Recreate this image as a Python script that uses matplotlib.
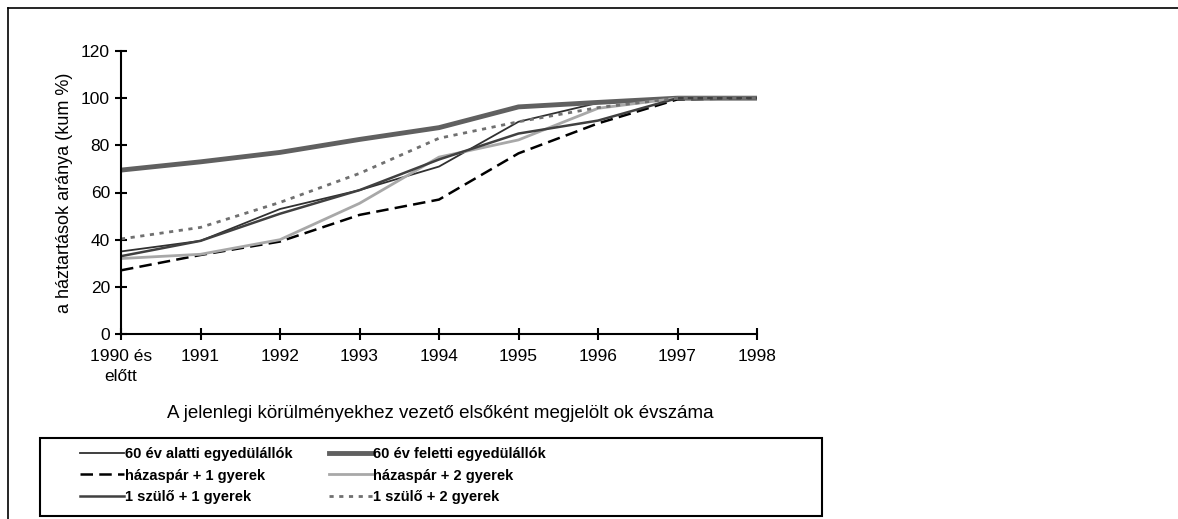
import matplotlib
matplotlib.use("Agg")
import matplotlib.pyplot as plt
from matplotlib.lines import Line2D
from matplotlib.patches import Rectangle

plt.rcParams['font.family'] = ['Liberation Sans', 'DejaVu Sans']

years = ["1990 és\nelőtt", "1991", "1992", "1993", "1994", "1995", "1996", "1997", "1998"]
under60 = [35, 39.5, 53, 61, 71, 90, 98, 100, 100]
over60 = [69.5, 73, 77, 82.5, 87.5, 96.3, 98.2, 100, 100]
couple1 = [27, 33.5, 39.2, 50.5, 57, 76.6, 89.3, 99.5, 100]
couple2 = [32, 33.8, 40, 55.4, 75, 82.3, 95.7, 100, 100]
single1 = [33, 39.5, 51, 61, 74, 85, 90.5, 100, 100]
single2 = [40.3, 45.2, 55.8, 68.1, 83, 90, 96, 100, 100]

labels = ["60 év alatti egyedülállók", "60 év feletti egyedülállók",
          "házaspár + 1 gyerek", "házaspár + 2 gyerek",
          "1 szülő + 1 gyerek", "1 szülő + 2 gyerek"]

W, H = 1178, 519
fig = plt.figure(figsize=(W / 100, H / 100), dpi=100)
ax = fig.add_axes([121 / W, (H - 334) / H, 636 / W, 283 / H])

x = list(range(len(years)))
l1, = ax.plot(x, under60, color='#303030', lw=1.3)
l2, = ax.plot(x, over60, color='#606060', lw=3.5)
l3, = ax.plot(x, couple1, color='black', lw=1.8, dashes=(5, 2.5))
l4, = ax.plot(x, couple2, color='#a8a8a8', lw=2)
l5, = ax.plot(x, single1, color='#404040', lw=1.8)
l6, = ax.plot(x, single2, color='#707070', lw=2, dashes=(1.5, 2))

ax.set_xlim(0, 8)
ax.set_ylim(0, 120)
ax.set_yticks(range(0, 121, 20))
ax.set_xticks(x)
ax.set_xticklabels(years, linespacing=1.45)
ax.tick_params(axis='both', direction='inout', length=9, width=1.5, labelsize=12.5)
ax.tick_params(axis='x', pad=6)
for s in ['top', 'right']:
    ax.spines[s].set_visible(False)
for s in ['left', 'bottom']:
    ax.spines[s].set_linewidth(1.5)
ax.set_ylabel("a háztartások aránya (kum %)", fontsize=13, labelpad=6)
fig.text(440 / W, 1 - 414 / H, "A jelenlegi körülményekhez vezető elsőként megjelölt ok évszáma",
         fontsize=13.5, ha='center', va='center')

handles = [l1, l3, l5, l2, l4, l6]
leg_labels = [labels[0], labels[2], labels[4], labels[1], labels[3], labels[5]]
leg = fig.legend(handles, leg_labels, ncol=2, loc='upper left',
                 bbox_to_anchor=(73 / W, 1 - 440 / H), frameon=False, borderpad=0,
                 handlelength=3.0, handletextpad=0.05, columnspacing=2.5,
                 labelspacing=0.5, prop={'weight': 'bold', 'size': 10.5})

fig.patches.append(Rectangle((40 / W, 1 - 516 / H), (822 - 40) / W, (516 - 438) / H,
                             transform=fig.transFigure, fill=False, lw=1.5, ec='black'))
fig.lines.append(Line2D([8 / W, 1], [1 - 8 / H, 1 - 8 / H], transform=fig.transFigure,
                        color='black', lw=1.2))
fig.lines.append(Line2D([8 / W, 8 / W], [0, 1 - 8 / H], transform=fig.transFigure,
                        color='black', lw=1.2))

fig.savefig("out.png", dpi=100)
